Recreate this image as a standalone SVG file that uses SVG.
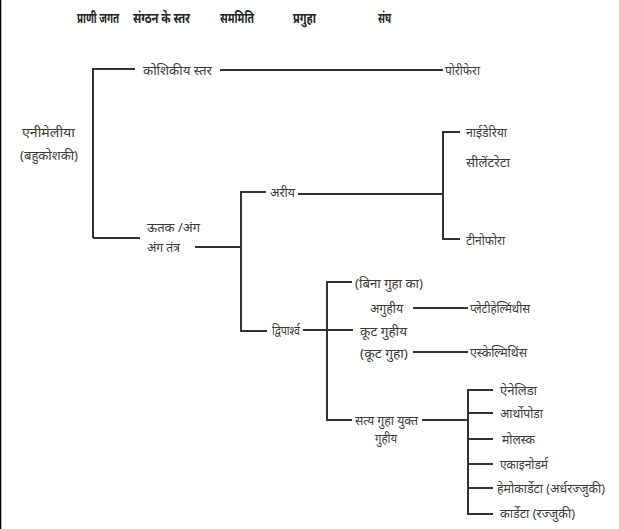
<svg xmlns="http://www.w3.org/2000/svg" width="619" height="529" viewBox="0 0 619 529">
<style>
text{font-family:"Noto Sans","Liberation Sans",sans-serif;font-size:13px;fill:#3a3a3a;dominant-baseline:central}
.h{font-weight:bold;fill:#222;font-size:14px}
.c{stroke:#333;stroke-width:2;fill:none}
</style>
<rect x="0" y="0" width="619" height="529" fill="#fff"/>
<line x1="0.5" y1="0" x2="0.5" y2="529" stroke="#000" stroke-width="1.5"/>
<g id="headers">
<text class="h" x="77" y="17" textLength="42" lengthAdjust="spacingAndGlyphs">प्राणी जगत</text>
<text class="h" x="133" y="17" textLength="57" lengthAdjust="spacingAndGlyphs">संग्ठन के स्तर</text>
<text class="h" x="220" y="17" textLength="34" lengthAdjust="spacingAndGlyphs">सममिति</text>
<text class="h" x="293" y="17" textLength="23" lengthAdjust="spacingAndGlyphs">प्रगुहा</text>
<text class="h" x="378" y="17" textLength="13" lengthAdjust="spacingAndGlyphs">संघ</text>
</g>
<g id="connectors">
<path class="c" d="M93,238 V69 H135"/>
<path class="c" d="M93,238 H140"/>
<path class="c" d="M220,70 H443"/>
<path class="c" d="M195,247 H241"/>
<path class="c" d="M266,192 H241 V331 H267"/>
<path class="c" d="M298,194 H443"/>
<path class="c" d="M460,132 H443 V239 H460"/>
<path class="c" d="M303,330 H353"/>
<path class="c" d="M352,282 H327 V420 H352"/>
<path class="c" d="M413,308 H468"/>
<path class="c" d="M413,352 H468"/>
<path class="c" d="M422,420 H468"/>
<path class="c" d="M493,390 H468 V514 H493"/>
<path class="c" d="M468,413 H493 M468,439 H493 M468,464 H493 M468,488 H493"/>
</g>
<g id="animalia"><text x="22" y="132" textLength="53" lengthAdjust="spacingAndGlyphs">एनीमेलीया</text><text x="20" y="155" textLength="58" lengthAdjust="spacingAndGlyphs">(बहुकोशकी)</text></g>
<g id="cellular"><text x="143" y="70" textLength="69" lengthAdjust="spacingAndGlyphs">कोशिकीय स्तर</text></g>
<g id="porifera"><text x="445" y="70" textLength="35" lengthAdjust="spacingAndGlyphs">पोरीफेरा</text></g>
<g id="tissue"><text x="147" y="227" textLength="53" lengthAdjust="spacingAndGlyphs">ऊतक /अंग</text><text x="147" y="247" textLength="33" lengthAdjust="spacingAndGlyphs">अंग तंत्र</text></g>
<g id="radial"><text x="270" y="192" textLength="25" lengthAdjust="spacingAndGlyphs">अरीय</text></g>
<g id="cnidaria"><text x="466" y="132" textLength="41" lengthAdjust="spacingAndGlyphs">नाईडेरिया</text><text x="466" y="162" textLength="44" lengthAdjust="spacingAndGlyphs">सीलेंटरेटा</text></g>
<g id="ctenophora"><text x="466" y="240" textLength="39" lengthAdjust="spacingAndGlyphs">टीनोफोरा</text></g>
<g id="bilateral"><text x="272" y="330" textLength="28" lengthAdjust="spacingAndGlyphs">द्विपार्श्व</text></g>
<g id="acoelomate"><text x="355" y="283" textLength="68" lengthAdjust="spacingAndGlyphs">(बिना गुहा का)</text><text x="370" y="308" textLength="33" lengthAdjust="spacingAndGlyphs">अगुहीय</text></g>
<g id="platyhelminthes"><text x="470" y="308" textLength="60" lengthAdjust="spacingAndGlyphs">प्लेटीहेल्मिंथीस</text></g>
<g id="pseudocoelomate"><text x="360" y="331" textLength="47" lengthAdjust="spacingAndGlyphs">कूट गुहीय</text><text x="360" y="353" textLength="48" lengthAdjust="spacingAndGlyphs">(कूट गुहा)</text></g>
<g id="aschelminthes"><text x="470" y="352" textLength="57" lengthAdjust="spacingAndGlyphs">एस्केल्मिथिंस</text></g>
<g id="coelomate"><text x="355" y="420" textLength="63" lengthAdjust="spacingAndGlyphs">सत्य गुहा युक्त</text><text x="375" y="438" textLength="22" lengthAdjust="spacingAndGlyphs">गुहीय</text></g>
<g id="annelida"><text x="500" y="390" textLength="37" lengthAdjust="spacingAndGlyphs">ऐनेलिडा</text></g>
<g id="arthropoda"><text x="500" y="413" textLength="43" lengthAdjust="spacingAndGlyphs">आर्थोपोडा</text></g>
<g id="mollusca"><text x="502" y="439" textLength="33" lengthAdjust="spacingAndGlyphs">मोलस्क</text></g>
<g id="echinodermata"><text x="500" y="464" textLength="48" lengthAdjust="spacingAndGlyphs">एकाइनोडर्म</text></g>
<g id="hemichordata"><text x="497" y="488" textLength="108" lengthAdjust="spacingAndGlyphs">हेमोकार्डेटा (अर्धरज्जुकी)</text></g>
<g id="chordata"><text x="500" y="513" textLength="75" lengthAdjust="spacingAndGlyphs">कार्डेटा (रज्जुकी)</text></g>
</svg>
